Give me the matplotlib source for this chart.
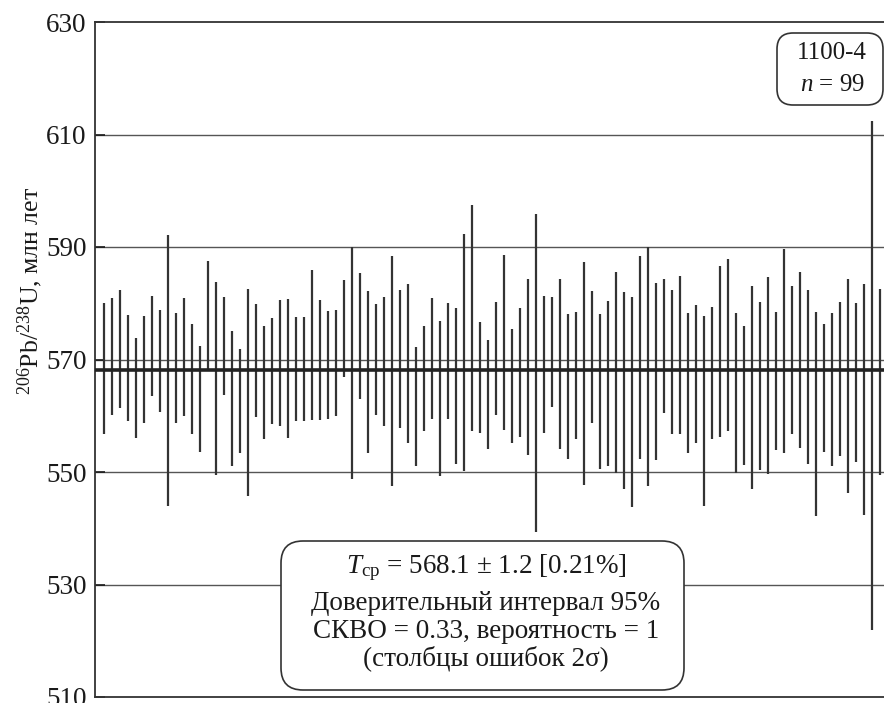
import matplotlib
matplotlib.use("Agg")
import matplotlib.pyplot as plt
from matplotlib.patches import FancyBboxPatch

plt.rcParams['font.family'] = ['Liberation Serif', 'DejaVu Serif']
plt.rcParams['mathtext.fontset'] = 'custom'
plt.rcParams['mathtext.rm'] = 'Liberation Serif'
plt.rcParams['mathtext.it'] = 'Liberation Serif:italic'
plt.rcParams['mathtext.bf'] = 'Liberation Serif:bold'

# Bar tops / bottoms (Ma) (98 visible analyses)
tops = [580.0, 581.0, 582.4, 577.9, 573.9, 577.8, 581.2, 578.8, 592.1, 578.2,
        581.0, 576.3, 572.4, 587.5, 583.7, 581.1, 575.0, 571.8, 582.6, 579.9,
        576.0, 577.3, 580.6, 580.7, 577.5, 577.6, 585.9, 580.5, 578.7, 578.8,
        584.1, 590.0, 585.3, 582.2, 579.9, 581.1, 588.4, 582.3, 583.5, 572.2,
        576.0, 580.9, 576.8, 580.1, 579.1, 592.3, 597.5, 576.6, 573.4, 580.3,
        588.6, 575.4, 579.2, 584.3, 595.9, 581.3, 581.1, 584.3, 578.1, 578.4,
        587.4, 582.1, 578.1, 580.4, 585.5, 582.0, 581.1, 588.4, 590.0, 583.6,
        584.3, 582.4, 584.8, 578.2, 579.7, 577.8, 579.4, 586.6, 587.8, 578.2,
        576.0, 583.0, 580.2, 584.6, 578.4, 589.6, 583.1, 585.5, 582.4, 578.5,
        576.3, 578.3, 580.3, 584.3, 580.0, 583.5, 612.4, 582.6]
bottoms = [556.8, 560.2, 561.3, 559.0, 556.0, 558.7, 563.5, 560.6, 543.9, 558.7,
           559.9, 556.7, 553.6, 568.3, 549.5, 563.7, 551.0, 553.3, 545.7, 559.7,
           555.9, 558.5, 558.1, 556.0, 559.1, 559.0, 559.3, 559.3, 559.4, 559.9,
           566.9, 548.7, 563.0, 553.3, 560.1, 558.1, 547.6, 557.9, 555.1, 551.0,
           557.3, 559.4, 549.2, 559.4, 551.5, 550.1, 557.2, 556.9, 554.1, 560.1,
           557.5, 555.1, 556.3, 553.0, 539.3, 556.9, 561.5, 554.1, 552.3, 555.9,
           547.7, 558.7, 550.5, 551.1, 549.8, 547.0, 543.8, 552.4, 547.5, 552.1,
           560.5, 556.7, 556.7, 553.3, 555.1, 543.9, 555.9, 556.3, 557.3, 549.9,
           551.3, 547.0, 550.3, 549.6, 554.0, 553.3, 556.7, 554.2, 551.5, 542.1,
           553.6, 551.0, 552.9, 546.3, 551.7, 542.4, 522.0, 549.5]
index = list(range(1, len(tops) + 1))

mean_age = 568.1
yticks = [510, 530, 550, 570, 590, 610, 630]

W, H = 884, 703
fig = plt.figure(figsize=(W / 100, H / 100), dpi=100)
ax = fig.add_axes([95 / W, 1 - 697 / H, (W - 95) / W, 675 / H])

ax.set_xlim(-0.125, 98.5)
ax.set_ylim(510, 630)

for yv in yticks[1:-1]:
    ax.axhline(yv, color='#555555', lw=1.0, zorder=1)

ax.vlines(index, bottoms, tops, color='#333333', lw=1.6, zorder=2)
ax.axhline(mean_age, color='#222222', lw=2.6, zorder=3)

ax.set_xticks([])
ax.set_yticks(yticks)
ax.tick_params(axis='y', direction='in', length=7, width=1.2, labelsize=19.5, pad=6, colors='#1a1a1a')
for s in ['left', 'top', 'bottom']:
    ax.spines[s].set_linewidth(1.3)
    ax.spines[s].set_color('#333333')
ax.spines['right'].set_visible(False)

fig.text(30 / W, 1 - 291 / H, r'$^{206}$Pb/$^{238}$U, млн лет', rotation=90,
         ha='center', va='center', fontsize=18.5, color='#1a1a1a')

# result box
box = FancyBboxPatch((281, H - 690), 403, 149, boxstyle='round,pad=0,rounding_size=22',
                     transform=None, fc='white', ec='#333333', lw=1.2, zorder=5)
fig.patches.append(box)
cx = 486 / W
lines = [(568, r'$T_{\mathrm{ср}}$ = 568.1 ± 1.2 [0.21%]'),
         (603, 'Доверительный интервал 95%'),
         (631, 'СКВО = 0.33, вероятность = 1'),
         (658, '(столбцы ошибок 2σ)')]
for yy, t in lines:
    fig.text(cx, 1 - yy / H, t, ha='center', va='center', fontsize=19.5,
             color='#1a1a1a', zorder=6)

# sample box
box2 = FancyBboxPatch((777, H - 105), 106, 72, boxstyle='round,pad=0,rounding_size=16',
                      transform=None, fc='white', ec='#333333', lw=1.2, zorder=5)
fig.patches.append(box2)
fig.text(832 / W, 1 - 53 / H, '1100-4', ha='center', va='center', fontsize=18,
         color='#1a1a1a', zorder=6)
fig.text(832 / W, 1 - 85 / H, r'$n$ = 99', ha='center', va='center', fontsize=18,
         color='#1a1a1a', zorder=6)

fig.savefig('out.png', dpi=100)
